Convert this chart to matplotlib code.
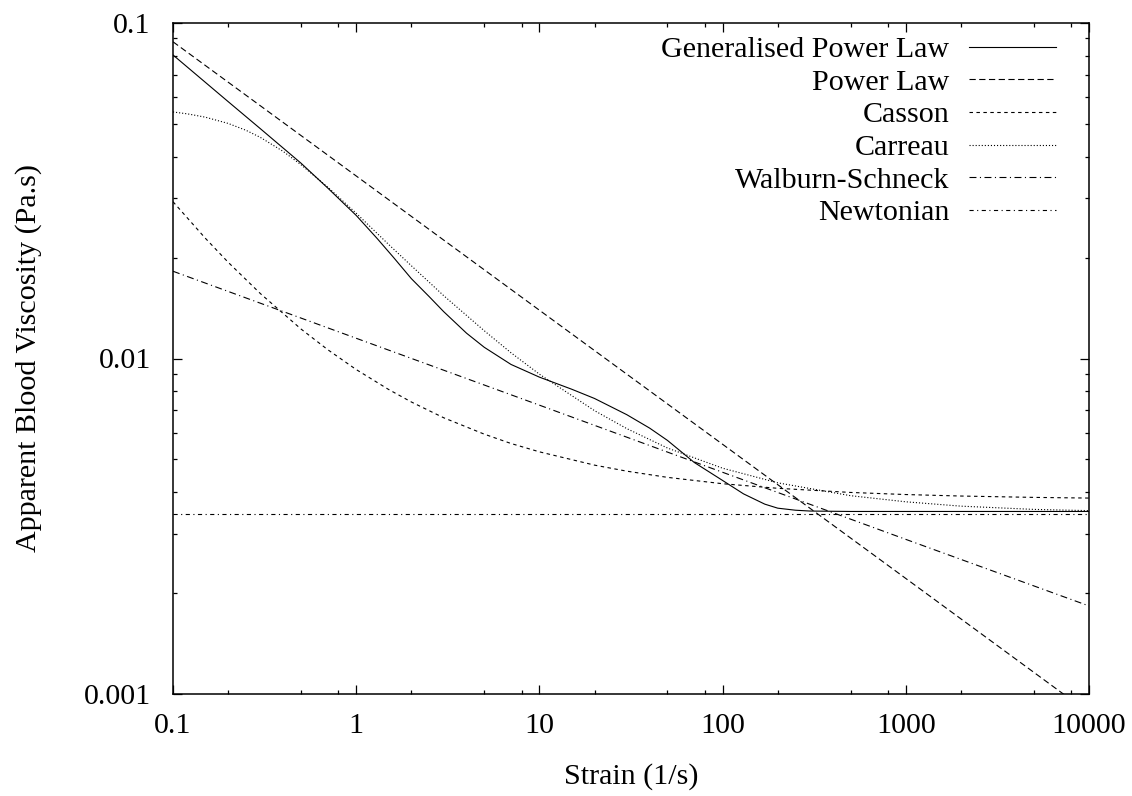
#!/usr/bin/env python3
"""Apparent blood viscosity vs strain rate for several rheology models (gnuplot-like look)."""
import matplotlib
matplotlib.use('Agg')
import matplotlib.pyplot as plt
from matplotlib.ticker import FixedLocator, NullFormatter

# values (strain in 1/s, viscosity in Pa.s)
gpl_x = [0.1, 0.2, 0.3, 0.5, 0.7, 1, 1.3, 1.6, 2, 2.5, 3, 4, 5, 7, 10, 15, 20, 30, 40, 50,
         70, 100, 130, 170, 200, 250, 300, 500, 10000]
gpl_y = [0.0803, 0.0583, 0.0484, 0.0382, 0.0322, 0.0267, 0.0228, 0.0200, 0.0173, 0.0153,
         0.0138, 0.0119, 0.0108, 0.0096, 0.0088, 0.0081, 0.0076, 0.0068, 0.0062, 0.0057,
         0.0049, 0.00433, 0.00395, 0.00368, 0.00358, 0.00353, 0.00351, 0.0035, 0.0035]

power_x = [0.1, 1, 10, 100, 1000, 10000]
power_y = [0.0879, 0.0350, 0.01393, 0.00555, 0.00221, 0.000879]

casson_x = [0.1, 0.15, 0.2, 0.3, 0.5, 0.7, 1, 1.5, 2, 3, 5, 7, 10, 20, 30, 50, 100, 200, 500,
            1000, 2000, 5000, 10000]
casson_y = [0.02933, 0.02284, 0.01936, 0.01561, 0.01224, 0.01062, 0.00927, 0.00809, 0.00742,
            0.00666, 0.00595, 0.00558, 0.00527, 0.00481, 0.004615, 0.004423, 0.004234, 0.004103,
            0.003988, 0.003931, 0.003891, 0.003855, 0.003837]

carreau_x = [0.1, 0.12, 0.15, 0.2, 0.25, 0.3, 0.4, 0.5, 0.7, 1, 1.5, 2, 3, 5, 7, 10, 20, 30, 50,
             100, 200, 500, 1000, 2000, 5000, 10000]
carreau_y = [0.0543, 0.0536, 0.0524, 0.0502, 0.0479, 0.0456, 0.0414, 0.0378, 0.0324, 0.0271,
             0.0219, 0.0189, 0.0154, 0.0121, 0.0104, 0.00898, 0.00699, 0.00618, 0.00541,
             0.00471, 0.00426, 0.00390, 0.00374, 0.00363, 0.00355, 0.00352]

ws_x = [0.1, 1, 10, 100, 1000, 10000]
ws_y = [0.0182, 0.01149, 0.00726, 0.00458, 0.00289, 0.00183]

newt_x = [0.1, 10000]
newt_y = [0.00345, 0.00345]

labels = ['Generalised Power Law', 'Power Law', 'Casson', 'Carreau', 'Walburn-Schneck', 'Newtonian']

xticks = [0.1, 1, 10, 100, 1000, 10000]
xticklabels = ['0.1', '1', '10', '100', '1000', '10000']
yticks = [0.001, 0.01, 0.1]
yticklabels = ['0.001', '0.01', '0.1']

plt.rcParams['font.family'] = ['Liberation Serif', 'DejaVu Serif']
plt.rcParams['font.size'] = 21.6
plt.rcParams['lines.scale_dashes'] = False

fig = plt.figure(figsize=(11.32, 7.96), dpi=100)
ax = fig.add_axes([173 / 1132, 1 - 694 / 796, (1089 - 173) / 1132, (694 - 23) / 796])

lw = 0.8
ax.plot(gpl_x, gpl_y, color='black', lw=lw, ls='-', label=labels[0])
ax.plot(power_x, power_y, color='black', lw=lw, ls=(0, (4.5, 2.5)), label=labels[1])
ax.plot(casson_x, casson_y, color='black', lw=lw, ls=(0, (2.5, 2.5)), label=labels[2])
ax.plot(carreau_x, carreau_y, color='black', lw=lw, ls=(0, (0.8, 1.4)), label=labels[3])
ax.plot(ws_x, ws_y, color='black', lw=lw, ls=(0, (5, 2.5, 0.8, 2.5)), label=labels[4])
ax.plot(newt_x, newt_y, color='black', lw=lw, ls=(0, (3, 2.5, 0.8, 2.5)), label=labels[5])

ax.set_xscale('log')
ax.set_yscale('log')
ax.set_xlim(0.1, 10000)
ax.set_ylim(0.001, 0.1)

ax.xaxis.set_major_locator(FixedLocator(xticks))
ax.set_xticklabels(xticklabels)
ax.xaxis.set_minor_locator(FixedLocator([m * 10.0 ** e for e in range(-1, 4) for m in (2, 5, 8)]))
ax.xaxis.set_minor_formatter(NullFormatter())
ax.yaxis.set_major_locator(FixedLocator(yticks))
ax.set_yticklabels(yticklabels)
ax.yaxis.set_minor_locator(FixedLocator([m * 10.0 ** e for e in (-3, -2) for m in range(2, 10)]))
ax.yaxis.set_minor_formatter(NullFormatter())

ax.tick_params(which='both', direction='in', top=True, right=True, width=0.9)
ax.tick_params(which='major', length=6.5)
ax.tick_params(which='minor', length=3)
ax.tick_params(axis='x', which='major', pad=14)
ax.tick_params(axis='y', which='major', pad=16)
for s in ax.spines.values():
    s.set_linewidth(1.1)

ax.set_xlabel('Strain (1/s)', labelpad=17)
ax.set_ylabel('Apparent Blood Viscosity (Pa.s)', labelpad=30)

ax.legend(loc='upper right', bbox_to_anchor=(1050 / 1132 + 0.005, 1 - 36 / 796),
          bbox_transform=fig.transFigure, frameon=False, markerfirst=False,
          handlelength=2.9, handletextpad=0.65, labelspacing=0.19, borderpad=0, borderaxespad=0)

fig.savefig('out.png', dpi=100)
